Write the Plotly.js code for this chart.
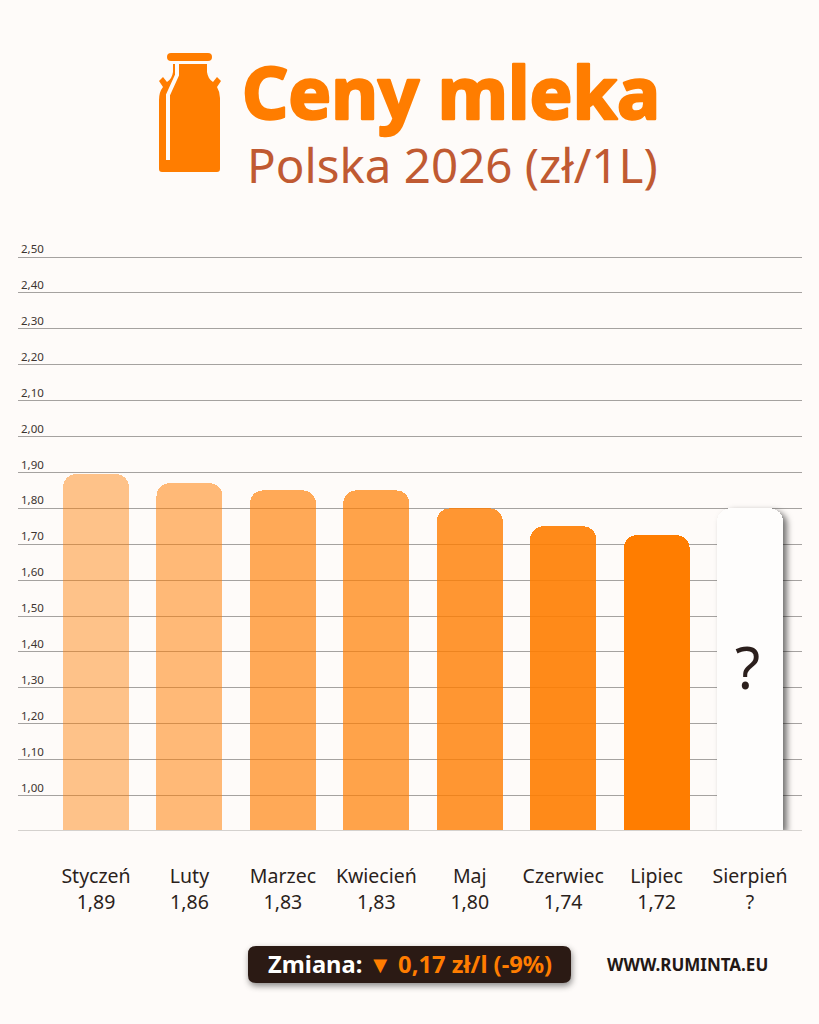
<!DOCTYPE html>
<html><head><meta charset="utf-8">
<script src="https://cdn.plot.ly/plotly-3.0.0.min.js"></script>
<style>html,body{margin:0;padding:0;background:#fefbf9}</style></head>
<body><div id="chart" style="width:819px;height:1024px"></div>
<script>
const months = ["Styczeń","Luty","Marzec","Kwiecień","Maj","Czerwiec","Lipiec","Sierpień"];
const priceLabels = ["1,89","1,86","1,83","1,83","1,80","1,74","1,72","?"];
const barHeights = [1.895,1.87,1.85,1.85,1.80,1.75,1.725,1.80];
const barColors = ["rgba(255,125,0,.45)","rgba(255,125,0,.52)","rgba(255,125,0,.65)","rgba(255,125,0,.70)","rgba(255,125,0,.80)","rgba(255,125,0,.90)","rgba(255,125,0,1)","#fefdfc"];
const yTicks = [1.0,1.1,1.2,1.3,1.4,1.5,1.6,1.7,1.8,1.9,2.0,2.1,2.2,2.3,2.4,2.5];
const yTickText = ["1,00","1,10","1,20","1,30","1,40","1,50","1,60","1,70","1,80","1,90","2,00","2,10","2,20","2,30","2,40","2,50"];
const yBase = 0.904;
const W=819,H=1024,mL=18,mR=17,mT=232,mB=194;
const px=x=>(x-mL)/(W-mL-mR), py=y=>(H-mB-y)/(H-mT-mB);
const P=(x,y)=>px(x).toFixed(5)+","+py(y).toFixed(5);
const path=(cmds)=>cmds.map(c=>c[0]+(c.length>1?c.slice(1).map(p=>P(p[0],p[1])).join(" "):"")).join(" ");
const FONT="Noto Sans, sans-serif", dark="#2b1f1c", orange="#ff7d00", bg="#fefbf9";
const canBody=path([["M",[173,64]],["L",[207,64]],["L",[207,72]],["Q",[208,79],[213,82]],["L",[217,77]],["L",[221,81]],["L",[217,87]],["Q",[220,92],[220,98]],["L",[220,169]],["Q",[220,172],[217,172]],["L",[162,172]],["Q",[159,172],[159,169]],["L",[159,100]],["Q",[159,92],[163,87]],["L",[159,81]],["L",[163,77]],["L",[167,82]],["Q",[172,79],[173,72]],["Z"]]);
const canStripe=path([["M",[177,64]],["L",[177,75]],["L",[168,95]],["L",[168,160]]]);
const canCap=path([["M",[171,53]],["L",[208,53]],["Q",[212,53],[212,57]],["Q",[212,61],[208,61]],["L",[171,61]],["Q",[167,61],[167,57]],["Q",[167,53],[171,53]],["Z"]]);
const pill=path([["M",[256,946]],["L",[563,946]],["Q",[571,946],[571,954]],["L",[571,975]],["Q",[571,983],[563,983]],["L",[256,983]],["Q",[248,983],[248,975]],["L",[248,954]],["Q",[248,946],[256,946]],["Z"]]);
const shapes=[
 {type:"path",xref:"paper",yref:"paper",path:canBody,fillcolor:orange,line:{width:0}},
 {type:"path",xref:"paper",yref:"paper",path:canStripe,line:{color:bg,width:4}},
 {type:"path",xref:"paper",yref:"paper",path:canCap,fillcolor:orange,line:{width:0}},
 {type:"path",xref:"paper",yref:"paper",path:pill,fillcolor:"#2b1a14",line:{width:0}}
];
const ann=(x,y,text,size,color,extra)=>Object.assign({xref:"paper",yref:"paper",x:px(x),y:py(y),text,showarrow:false,font:{family:FONT,size,color},xanchor:"left",yanchor:"middle"},extra||{});
const annotations=[
 ann(245,165,"Polska 2026 (zł/1L)",47.5,"#c05a32"),
 ann(266,964,"<b><span style='color:#fff'>Zmiana:</span> ▼ 0,17 zł/l (-9%)</b>",23.7,orange),
 ann(605,964,"<b>WWW.RUMINTA.EU</b>",17,"#231815"),
 {x:7,y:1.36,xref:"x",yref:"y",xshift:-3,text:"?",showarrow:false,font:{family:FONT,size:58,color:dark}}
];
const xPos=months.map((m,i)=>i);
const spacer={type:"bar",x:xPos,y:months.map(()=>yBase),marker:{color:"rgba(0,0,0,0)",line:{width:0}},cliponaxis:false,hoverinfo:"skip"};
const trace={type:"bar",x:xPos,y:barHeights.map(v=>v-yBase),marker:{color:barColors,line:{width:0}},cliponaxis:false,hoverinfo:"skip"};
const layout={width:W,height:H,paper_bgcolor:bg,plot_bgcolor:"rgba(0,0,0,0)",showlegend:false,barmode:"stack",barcornerradius:13,bargap:0.294,
 margin:{l:mL,r:mR,t:mT,b:mB,pad:0},
 title:{text:"<b>Ceny mleka</b>",font:{family:FONT,size:72,color:orange},x:px(242),xanchor:"left",xref:"paper",y:(H-94)/H,yanchor:"middle",yref:"container"},
 xaxis:{type:"linear",range:[-0.835,7.556],tickvals:xPos,ticktext:months.map((m,i)=>m+"<br>"+priceLabels[i]),ticklen:0,ticklabelstandoff:29,tickfont:{family:FONT,size:19.5,color:dark},showgrid:false,zeroline:false,showline:true,linecolor:"#d4d1ce",linewidth:1,fixedrange:true},
 yaxis:{range:[yBase,yBase+(H-mT-mB)/358.97],tickvals:yTicks,ticktext:yTickText,ticklabelposition:"inside",ticklabelshift:-8,ticklen:0,tickfont:{family:FONT,size:11.5,color:"#3c3430"},showgrid:true,gridcolor:"#a5a2a0",gridwidth:1,zeroline:false,showline:false,fixedrange:true},
 shapes,annotations};
Plotly.newPlot("chart",[spacer,trace],layout,{displayModeBar:false,staticPlot:true}).then(()=>{
 const bars=document.querySelectorAll(".bars .point path");
 const last=bars[bars.length-1];
 if(last) last.style.filter="drop-shadow(4px 3px 3px rgba(0,0,0,.55))";
 const p=document.querySelector('.shapelayer path[data-index="3"]');
 if(p) p.style.filter="drop-shadow(1px 3px 3px rgba(0,0,0,.45))";
 const t=document.querySelector(".gtitle");
 if(t){t.style.stroke=orange;t.style.strokeWidth="2.5px";t.style.strokeLinejoin="round";}
});
</script></body></html>
